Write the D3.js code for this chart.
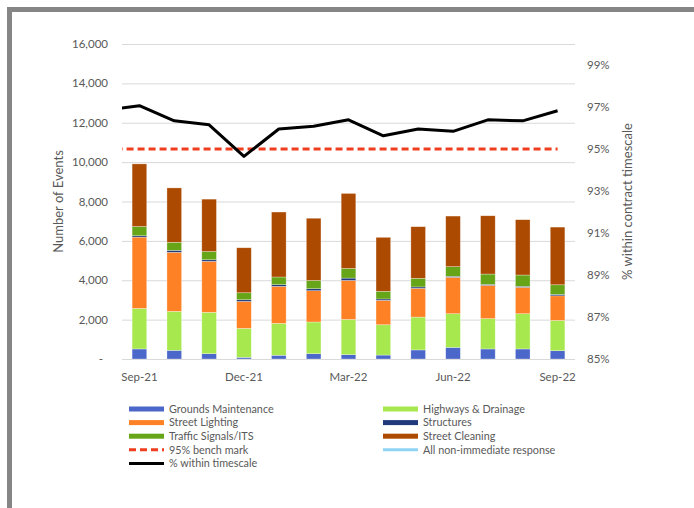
<!DOCTYPE html>
<html>
<head>
<meta charset="utf-8">
<title>Events by month</title>
<script src="https://cdn.jsdelivr.net/npm/d3@7"></script>
<style>
  body { margin: 0; background: #fff; }
  text { font-family: Lato, "Open Sans", sans-serif; fill: #595959; }
</style>
</head>
<body>
<div id="chart"></div>
<script>
// months shown on the category axis
var months = ["Sep-21", "Oct-21", "Nov-21", "Dec-21", "Jan-22", "Feb-22", "Mar-22",
              "Apr-22", "May-22", "Jun-22", "Jul-22", "Aug-22", "Sep-22"];
var tickMonths = ["Sep-21", "Dec-21", "Mar-22", "Jun-22", "Sep-22"];

// stacked series (events per month)
var groundsMaintenance = [510, 440, 270, 85, 190, 270, 220, 200, 460, 590, 510, 510, 420];
var highwaysDrainage   = [2060, 1980, 2100, 1470, 1620, 1610, 1790, 1540, 1670, 1710, 1540, 1790, 1540];
var streetLighting     = [3620, 3000, 2590, 1370, 1880, 1590, 1980, 1240, 1460, 1850, 1690, 1340, 1250];
var structures         = [70, 100, 80, 85, 85, 100, 120, 70, 70, 50, 50, 50, 70];
var trafficSignals     = [470, 410, 420, 355, 390, 420, 490, 390, 440, 490, 525, 575, 490];
var streetCleaning     = [3180, 2760, 2660, 2285, 3300, 3160, 3810, 2740, 2620, 2570, 2960, 2810, 2930];

// % within timescale (first value = month before Sep-21, runs off the plot edge)
var pctPrev = 0.9684;
var pctWithin = [0.9706, 0.9634, 0.9615, 0.9465, 0.9595, 0.9608, 0.9639,
                 0.9563, 0.9595, 0.9584, 0.9639, 0.9634, 0.9682];
var benchmark = 0.95;

var leftTicks = [0, 2000, 4000, 6000, 8000, 10000, 12000, 14000, 16000];
var rightTicks = [0.85, 0.87, 0.89, 0.91, 0.93, 0.95, 0.97, 0.99];

var seriesNames = ["Grounds Maintenance", "Highways & Drainage", "Street Lighting",
                   "Structures", "Traffic Signals/ITS", "Street Cleaning"];
var seriesData = [groundsMaintenance, highwaysDrainage, streetLighting,
                  structures, trafficSignals, streetCleaning];
var seriesColors = ["#4A67C9", "#A8E84F", "#FF8126", "#213A7C", "#66A517", "#AD4A02"];

var width = 694, height = 508;
var plot = {left: 122, right: 575, top: 44, bottom: 359};

var svg = d3.select("#chart").append("svg")
    .attr("width", width)
    .attr("height", height);

svg.append("rect").attr("width", width).attr("height", height).attr("fill", "#fff");

// grey frame (top + left edges)
svg.append("rect").attr("x", 7).attr("y", 7).attr("width", width - 7).attr("height", 5).attr("fill", "#868686");
svg.append("rect").attr("x", 7).attr("y", 7).attr("width", 5).attr("height", height - 7).attr("fill", "#868686");

var x = d3.scaleBand()
    .domain(months)
    .range([plot.left, plot.right])
    .paddingInner(0.58)
    .paddingOuter(0.29);

var yL = d3.scaleLinear().domain([0, 16000]).range([plot.bottom, plot.top]);
var yR = d3.scaleLinear().domain([0.85, 1.0]).range([plot.bottom, plot.top]);

// gridlines
svg.append("g")
    .selectAll("line")
    .data(leftTicks)
    .enter().append("line")
    .attr("x1", plot.left).attr("x2", plot.right)
    .attr("y1", function(d) { return yL(d) + 0.5; })
    .attr("y2", function(d) { return yL(d) + 0.5; })
    .attr("stroke", "#d9d9d9")
    .attr("stroke-width", 1);

// left axis labels
var fmt = d3.format(",");
svg.append("g")
    .selectAll("text")
    .data(leftTicks)
    .enter().append("text")
    .attr("x", function(d) { return d === 0 ? 103 : 108; })
    .attr("y", function(d) { return yL(d); })
    .attr("dy", "0.35em")
    .attr("text-anchor", "end")
    .style("font-size", "11.5px")
    .text(function(d) { return d === 0 ? "-" : fmt(d); });

// right axis labels
svg.append("g")
    .selectAll("text")
    .data(rightTicks)
    .enter().append("text")
    .attr("x", 587)
    .attr("y", function(d) { return yR(d); })
    .attr("dy", "0.35em")
    .style("font-size", "11.5px")
    .text(function(d) { return d3.format(".0%")(d); });

// x labels
svg.append("g")
    .selectAll("text")
    .data(tickMonths)
    .enter().append("text")
    .attr("x", function(d) { return x(d) + x.bandwidth() / 2; })
    .attr("y", 381)
    .attr("text-anchor", "middle")
    .style("font-size", "11.5px")
    .text(function(d) { return d; });

// axis titles
svg.append("text")
    .attr("transform", "translate(63," + (plot.top + plot.bottom) / 2 + ") rotate(-90)")
    .attr("text-anchor", "middle")
    .style("font-size", "13px")
    .text("Number of Events");

svg.append("text")
    .attr("transform", "translate(632," + (plot.top + plot.bottom) / 2 + ") rotate(-90)")
    .attr("text-anchor", "middle")
    .style("font-size", "13px")
    .text("% within contract timescale");

// stacked bars
var rows = months.map(function(m, i) {
  var r = {month: m};
  seriesNames.forEach(function(s, j) { r[s] = seriesData[j][i]; });
  return r;
});
var stack = d3.stack().keys(seriesNames)(rows);

svg.append("g")
    .selectAll("g")
    .data(stack)
    .enter().append("g")
    .attr("fill", function(d, i) { return seriesColors[i]; })
    .selectAll("rect")
    .data(function(d) { return d; })
    .enter().append("rect")
    .attr("x", function(d) { return x(d.data.month); })
    .attr("width", x.bandwidth())
    .attr("y", function(d) { return yL(d[1]); })
    .attr("height", function(d) { return yL(d[0]) - yL(d[1]); })
    .attr("stroke", "#ffffff")
    .attr("stroke-opacity", 0.5)
    .attr("stroke-width", 0.6);

// lines (clipped at plot edges)
svg.append("clipPath").attr("id", "plotclip")
  .append("rect")
    .attr("x", plot.left).attr("y", 0)
    .attr("width", plot.right - plot.left).attr("height", height);

var step = x.step();
var cx = function(i) { return x(months[0]) + x.bandwidth() / 2 + (i - 1) * step; };

var pctAll = [pctPrev].concat(pctWithin);
var benchAll = pctAll.map(function() { return benchmark; });

var line = d3.line()
    .x(function(d, i) { return cx(i); })
    .y(function(d) { return yR(d); });

var lines = svg.append("g").attr("clip-path", "url(#plotclip)");

lines.append("path")
    .attr("d", line(benchAll))
    .attr("fill", "none")
    .attr("stroke", "#F03C1F")
    .attr("stroke-width", 3)
    .attr("stroke-dasharray", "7,4");

lines.append("path")
    .attr("d", line(pctAll))
    .attr("fill", "none")
    .attr("stroke", "#000")
    .attr("stroke-width", 3)
    .attr("stroke-linejoin", "round");

// legend
var legendItems = [
  {name: "Grounds Maintenance", color: seriesColors[0], type: "bar"},
  {name: "Highways & Drainage", color: seriesColors[1], type: "bar"},
  {name: "Street Lighting", color: seriesColors[2], type: "bar"},
  {name: "Structures", color: seriesColors[3], type: "bar"},
  {name: "Traffic Signals/ITS", color: seriesColors[4], type: "bar"},
  {name: "Street Cleaning", color: seriesColors[5], type: "bar"},
  {name: "95% bench mark", color: "#F03C1F", type: "dash"},
  {name: "All non-immediate response", color: "#8FD3F5", type: "line"},
  {name: "% within timescale", color: "#000", type: "line"}
];

var leg = svg.append("g")
    .selectAll("g")
    .data(legendItems)
    .enter().append("g")
    .attr("transform", function(d, i) {
      return "translate(" + (i % 2 ? 383 : 129) + "," + (409 + Math.floor(i / 2) * 13.6) + ")";
    });

leg.filter(function(d) { return d.type === "bar"; })
  .append("rect")
    .attr("x", 0).attr("y", -2.5)
    .attr("width", 35).attr("height", 5)
    .attr("fill", function(d) { return d.color; });

leg.filter(function(d) { return d.type !== "bar"; })
  .append("line")
    .attr("x1", 0).attr("x2", 35)
    .attr("stroke", function(d) { return d.color; })
    .attr("stroke-width", 3)
    .attr("stroke-dasharray", function(d) { return d.type === "dash" ? "7,4" : null; });

leg.append("text")
    .attr("x", 40)
    .attr("dy", "0.35em")
    .style("font-size", "10.8px")
    .text(function(d) { return d.name; });
</script>
</body>
</html>
